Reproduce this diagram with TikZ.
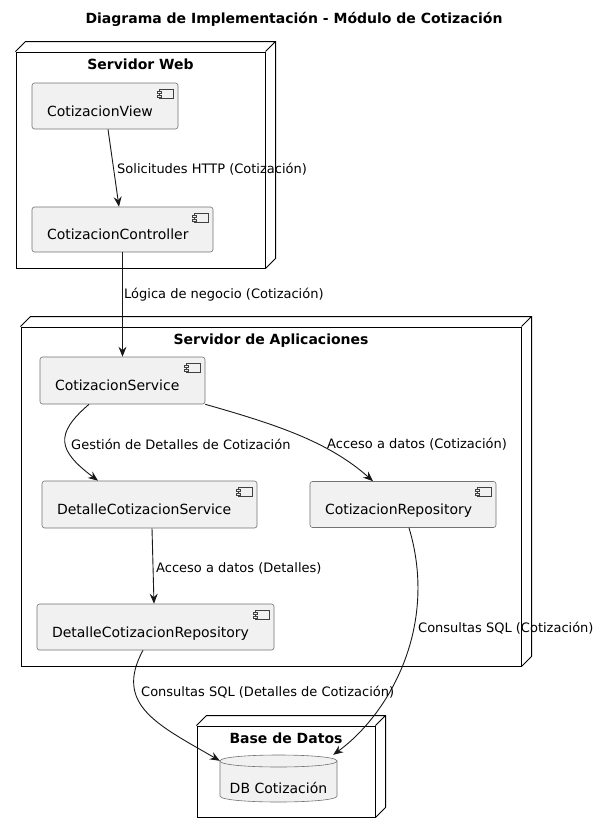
\documentclass[tikz,border=0pt]{standalone}
\usepackage{fontspec}
\setmainfont{DejaVu Sans}
\usetikzlibrary{arrows.meta}
\definecolor{compfill}{HTML}{F1F1F1}
\definecolor{linecol}{HTML}{181818}

\begin{document}
\begin{tikzpicture}[x=1pt, y=-1pt,
    box/.style={draw=black, line width=1pt, fill=white, inner sep=0pt},
    boxline/.style={draw=black, line width=1pt, line join=miter},
    boxtitle/.style={font=\fontsize{14}{16}\selectfont\bfseries, anchor=base, inner sep=0pt},
    comp/.style={draw=black!55, fill=compfill, line width=0.6pt, rounded corners=2.5pt,
        inner xsep=15pt, inner ysep=2pt, align=left, text height=20pt, text depth=0pt,
        font=\fontsize{14}{16}\selectfont,
        path picture={
            \draw[sharp corners, draw=black!75, line width=0.5pt]
                ([xshift=-19pt,yshift=-6pt]path picture bounding box.north east) rectangle
                ([xshift=-5pt,yshift=-15pt]path picture bounding box.north east);
            \draw[sharp corners, draw=black!75, fill=compfill, line width=0.5pt]
                ([xshift=-21pt,yshift=-8pt]path picture bounding box.north east) rectangle
                ([xshift=-17pt,yshift=-10pt]path picture bounding box.north east);
            \draw[sharp corners, draw=black!75, fill=compfill, line width=0.5pt]
                ([xshift=-21pt,yshift=-12pt]path picture bounding box.north east) rectangle
                ([xshift=-17pt,yshift=-14pt]path picture bounding box.north east);
        }},
    lbl/.style={font=\fontsize{13}{15}\selectfont, anchor=west, inner sep=0pt, yshift=-1.5pt},
    arr/.style={draw=linecol, line width=0.9pt, -{Stealth[length=10pt,width=8pt,inset=3.5pt]}},
]
    \useasboundingbox (0,0) rectangle (599,833);

    % --- Titolo ---
    \node[boxtitle] (title) at (294,23) {Diagrama de Implementación - Módulo de Cotización};

    % --- Servidor Web ---
    \node[box, minimum width=249, minimum height=216] (web) at (140.5,160) {};
    \draw[boxline] (web.north west) -- ++(10,-10) -- ([shift={(10,-10)}]web.north east)
        -- ([shift={(10,-10)}]web.south east) -- (web.south east)
        (web.north east) -- ++(10,-10);
    \node[boxtitle] (webtitle) at ([yshift=-17.5pt]web.north) {Servidor Web};

    \node[comp, text width=116pt, minimum height=46pt] (view) at (105,106) {CotizacionView};
    \node[comp, text width=151pt, minimum height=45pt] (ctrl) at (122.5,229.5) {CotizacionController};

    % --- Servidor de Aplicaciones ---
    \node[box, minimum width=500, minimum height=339] (app) at (271,496.5) {};
    \draw[boxline] (app.north west) -- ++(10,-10) -- ([shift={(10,-10)}]app.north east)
        -- ([shift={(10,-10)}]app.south east) -- (app.south east)
        (app.north east) -- ++(10,-10);
    \node[boxtitle] (apptitle) at ([yshift=-17.5pt]app.north) {Servidor de Aplicaciones};

    \node[comp, text width=135pt, minimum height=47pt] (service) at (122.5,380.5) {CotizacionService};
    \node[comp, text width=185pt, minimum height=47pt] (detsvc) at (149.5,504.5) {DetalleCotizacionService};
    \node[comp, text width=156pt, minimum height=46pt] (repo) at (403,504.5) {CotizacionRepository};
    \node[comp, text width=207pt, minimum height=46pt] (detrepo) at (155.5,627) {DetalleCotizacionRepository};

    % --- Base de Datos ---
    \node[box, minimum width=178, minimum height=91] (dbbox) at (286,771.5) {};
    \draw[boxline] (dbbox.north west) -- ++(10,-10) -- ([shift={(10,-10)}]dbbox.north east)
        -- ([shift={(10,-10)}]dbbox.south east) -- (dbbox.south east)
        (dbbox.north east) -- ++(10,-10);
    \node[boxtitle] (dbtitle) at ([yshift=-17.5pt]dbbox.north) {Base de Datos};

    % cilindro
    \node[inner sep=0pt, minimum width=117, minimum height=47] (db) at (278.5,778.5) {};
    \filldraw[draw=black!55, fill=compfill, line width=0.6pt]
        (220,761) -- (220,796) .. controls (220,804) and (337,804) .. (337,796) -- (337,761) -- cycle;
    \filldraw[draw=black!55, fill=compfill, line width=0.6pt]
        (220,761) .. controls (220,753) and (337,753) .. (337,761)
        .. controls (337,769) and (220,769) .. (220,761);
    \node[font=\fontsize{14}{16}\selectfont, anchor=base, inner sep=0pt] (dbtext) at (278.5,793) {DB Cotización};

    % --- Connessioni ---
    \draw[arr] ([xshift=3pt]view.south) -- ([xshift=-3.5pt]ctrl.north);
    \draw[arr] (ctrl.south) -- (service.north);
    \draw[arr] ([xshift=-33.5pt]service.south) .. controls +(-35,30) and +(-40,-30) .. ([xshift=-51.5pt]detsvc.north);
    \draw[arr] (service.south east) .. controls +(70,20) and +(-45,-40) .. ([xshift=-30pt]repo.north);
    \draw[arr] ([xshift=2.5pt]detsvc.south) -- ([xshift=-1.5pt]detrepo.north);
    \draw[arr] ([xshift=-12.5pt]detrepo.south) .. controls +(-30,55) and +(-60,-35) .. ([yshift=-6pt]db.north west);
    \draw[arr] ([xshift=6pt]repo.south) .. controls +(30,100) and +(55,-40) .. ([xshift=-4pt]db.north east);

    % --- Etichette ---
    \node[lbl] (lview) at (117,168) {Solicitudes HTTP (Cotización)};
    \node[lbl] (lctrl) at (124,293) {Lógica de negocio (Cotización)};
    \node[lbl] (lgest) at (71,443) {Gestión de Detalles de Cotización};
    \node[lbl] (lacc) at (327,443) {Acceso a datos (Cotización)};
    \node[lbl] (ldet) at (156,567) {Acceso a datos (Detalles)};
    \node[lbl] (lsqld) at (141,691) {Consultas SQL (Detalles de Cotización)};
    \node[lbl] (lsql) at (418,627) {Consultas SQL (Cotización)};
\end{tikzpicture}
\end{document}
